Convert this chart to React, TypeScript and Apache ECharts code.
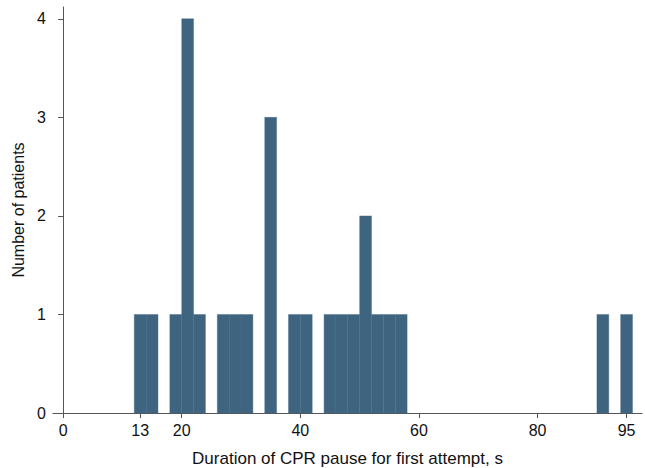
import React, { useEffect, useRef } from "react";
import * as echarts from "echarts";

// Histogram bins (width 2 s): start, end, count
const binStarts = [12, 14, 18, 20, 22, 26, 28, 30, 34, 38, 40, 44, 46, 48, 50, 52, 54, 56, 90, 94];
const binEnds = [14, 16, 20, 22, 24, 28, 30, 32, 36, 40, 42, 46, 48, 50, 52, 54, 56, 58, 92, 96];
const counts = [1, 1, 1, 4, 1, 1, 1, 1, 3, 1, 1, 1, 1, 1, 2, 1, 1, 1, 1, 1];
const xTicks = [0, 13, 20, 40, 60, 80, 95];
const yTicks = [0, 1, 2, 3, 4];

const FONT = "'Liberation Sans', Arial, Helvetica, sans-serif";
const BAR = "#3e6480";

export default function App() {
  const ref = useRef<HTMLDivElement>(null);
  useEffect(() => {
    if (!ref.current) return;
    const chart = echarts.init(ref.current, null, { renderer: "svg" });
    const data = binStarts.map((s, i) => [s, binEnds[i], counts[i]]);
    chart.setOption({
      animation: false,
      backgroundColor: "#ffffff",
      grid: { left: 53, right: 3, top: 7, bottom: 55, containLabel: false, outerBoundsMode: "none" },
      xAxis: {
        type: "value",
        min: -1.7,
        max: 97.6,
        splitLine: { show: false },
        axisLine: { show: true, onZero: false, lineStyle: { color: "#555", width: 1 } },
        axisTick: { show: true, customValues: xTicks, length: 5, lineStyle: { color: "#555" } },
        axisLabel: {
          customValues: xTicks,
          color: "#111",
          fontFamily: FONT,
          fontSize: 16,
          margin: 9,
        },
        name: "Duration of CPR pause for first attempt, s",
        nameLocation: "middle",
        nameGap: 37,
        nameTextStyle: { color: "#111", fontFamily: FONT, fontSize: 17 },
      },
      yAxis: {
        type: "value",
        min: 0,
        max: 4.12,
        splitLine: { show: false },
        axisLine: { show: true, lineStyle: { color: "#555", width: 1 } },
        axisTick: { show: true, customValues: yTicks, length: 5, lineStyle: { color: "#555" } },
        axisLabel: {
          customValues: yTicks,
          color: "#111",
          fontFamily: FONT,
          fontSize: 16,
          margin: 7,
        },
        name: "Number of patients",
        nameLocation: "middle",
        nameGap: 27,
        nameRotate: 90,
        nameTextStyle: { color: "#111", fontFamily: FONT, fontSize: 16 },
      },
      series: [
        {
          type: "custom",
          data,
          renderItem: (params: any, api: any) => {
            const s = api.value(0);
            const e = api.value(1);
            const c = api.value(2);
            const p0 = api.coord([s, 0]);
            const p1 = api.coord([e, c]);
            return {
              type: "rect",
              shape: { x: p0[0], y: p1[1], width: p1[0] - p0[0], height: p0[1] - p1[1] },
              style: { fill: BAR, stroke: "#436985", lineWidth: 0.4 },
            };
          },
        },
      ],
    });
    return () => chart.dispose();
  }, []);
  return (
    <div
      ref={ref}
      style={{ position: "fixed", left: 0, top: 0, width: 645, height: 468, background: "#fff" }}
    />
  );
}
